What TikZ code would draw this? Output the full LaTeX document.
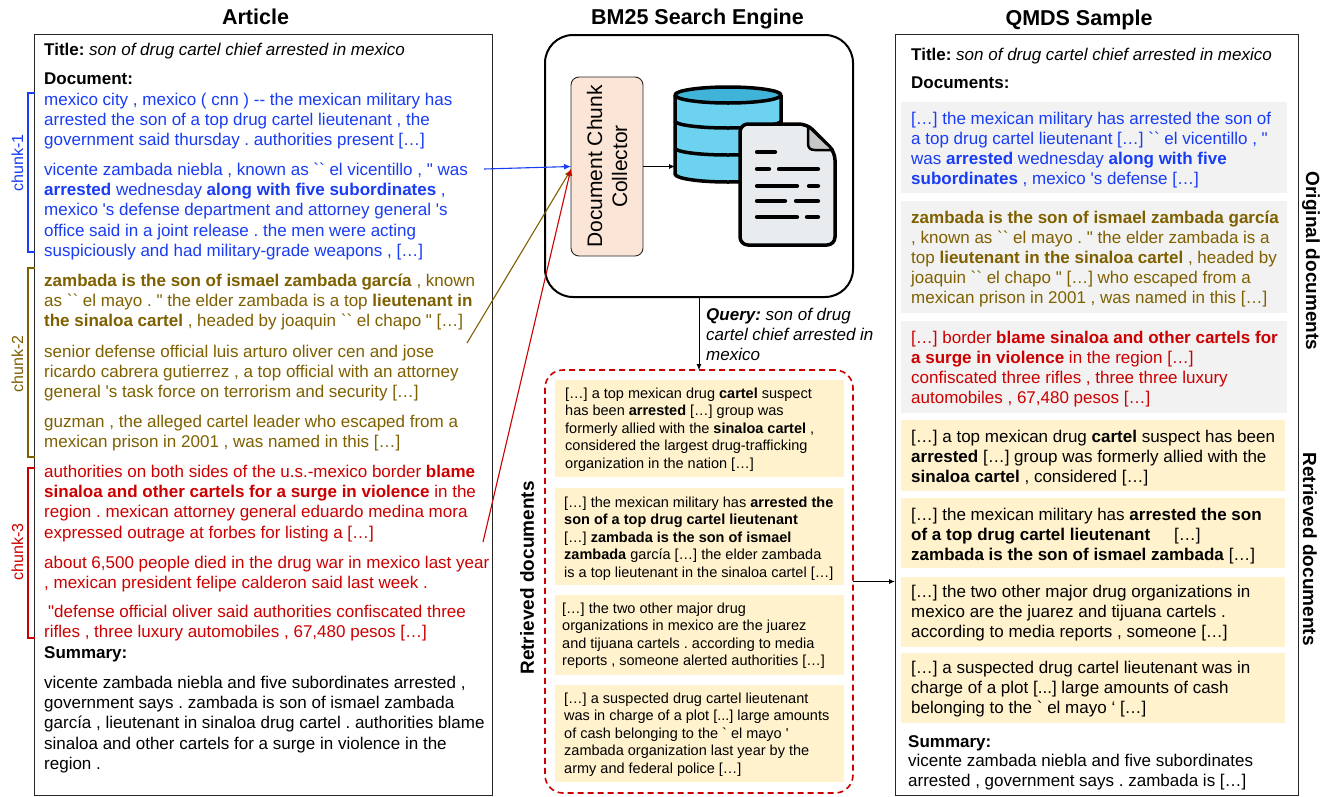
\documentclass[tikz,border=0pt]{standalone}
\usepackage{fontspec}
\setmainfont[Ligatures=TeXOff]{Liberation Sans}
\usetikzlibrary{arrows.meta}
\definecolor{cblue}{RGB}{25,60,245}
\definecolor{colive}{RGB}{127,96,0}
\definecolor{cred}{RGB}{204,0,0}
\definecolor{greybox}{RGB}{242,242,242}
\definecolor{yelbox}{RGB}{255,242,204}
\definecolor{peach}{RGB}{251,229,214}
\definecolor{dbblue}{RGB}{108,210,240}
\definecolor{dbtop}{RGB}{64,180,216}
\definecolor{docgrey}{RGB}{232,236,239}
\definecolor{foldgrey}{RGB}{196,198,200}
\newcommand{\ml}[1]{\begin{tabular}[t]{@{}l@{}}#1\end{tabular}}
\begin{document}
\frenchspacing
\begin{tikzpicture}[x=1pt,y=-1pt,
  txt/.style={anchor=base west, inner sep=0pt, font=\fontsize{17}{20.4}\selectfont},
  rtxt/.style={anchor=base west, inner sep=0pt, font=\fontsize{17}{20.2}\selectfont},
  mtxt/.style={anchor=base west, inner sep=0pt, font=\fontsize{14.5}{17.5}\selectfont},
  ttl/.style={anchor=base, inner sep=0pt, font=\fontsize{21.5}{24}\selectfont\bfseries},
  panel/.style={draw=black!85, line width=0.9pt, inner sep=0pt, outer sep=0pt},
  gbox/.style={fill=greybox, inner sep=0pt, outer sep=0pt},
  ybox/.style={fill=yelbox, inner sep=0pt, outer sep=0pt},
  arr/.style={-{Latex[length=6pt,width=5pt]}, line width=0.8pt},
  carr/.style={-{Latex[length=7pt,width=6pt]}, line width=1.1pt},
  bracket/.style={line width=1.2pt},
  chunklbl/.style={rotate=90, inner sep=0pt, font=\fontsize{16}{18}\selectfont},
  sidelbl/.style={inner sep=0pt, font=\fontsize{19}{22}\selectfont\bfseries},
  icon/.style={line width=3.5pt, line join=round}
]
\useasboundingbox (0,0) rectangle (1332,796);
\fill[white] (0,0) rectangle (1332,796);

% ---------- titles ----------
\node[ttl] (tart) at (255.5,24) {Article};
\node[ttl] (tbm) at (697.5,24) {BM25 Search Engine};
\node[ttl] (tqm) at (1079,25) {QMDS Sample};

% ---------- left panel ----------
\node[panel, minimum width=458pt, minimum height=761pt] (art) at (263,414.5) {};
\node[txt] (ltitle) at (44,55) {\textbf{Title:} \textit{son of drug cartel chief arrested in mexico}};
\node[txt] (ldoc) at (44,84) {\textbf{Document:}};
\node[txt, text=cblue] (p11) at (44,105) {\ml{mexico city , mexico ( cnn ) -- the mexican military has\\arrested the son of a top drug cartel lieutenant , the\\government said thursday . authorities present […]}};
\node[txt, text=cblue] (p12) at (44,175) {\ml{vicente zambada niebla , known as `` el vicentillo , " was\\\textbf{arrested} wednesday \textbf{along with five subordinates} ,\\mexico 's defense department and attorney general 's\\office said in a joint release . the men were acting\\suspiciously and had military-grade weapons , […]}};
\node[txt, text=colive] (p21) at (44,286) {\ml{\textbf{zambada is the son of ismael zambada garcía} , known\\as `` el mayo . " the elder zambada is a top \textbf{lieutenant in}\\\textbf{the sinaloa cartel} , headed by joaquin `` el chapo " […]}};
\node[txt, text=colive] (p22) at (44,357) {\ml{senior defense official luis arturo oliver cen and jose\\ricardo cabrera gutierrez , a top official with an attorney\\general 's task force on terrorism and security […]}};
\node[txt, text=colive] (p23) at (44,427) {\ml{guzman , the alleged cartel leader who escaped from a\\mexican prison in 2001 , was named in this […]}};
\node[txt, text=cred] (p31) at (44,477) {\ml{authorities on both sides of the u.s.-mexico border \textbf{blame}\\\textbf{sinaloa and other cartels for a surge in violence} in the\\region . mexican attorney general eduardo medina mora\\expressed outrage at forbes for listing a […]}};
\node[txt, text=cred] (p32) at (44,568) {\ml{about 6,500 people died in the drug war in mexico last year\\, mexican president felipe calderon said last week .}};
\node[txt, text=cred] (p33) at (48,617) {\ml{"defense official oliver said authorities confiscated three\\\hspace{-4pt}rifles , three luxury automobiles , 67,480 pesos […]}};
\node[txt] (lsumh) at (44,658) {\textbf{Summary:}};
\node[txt] (lsum) at (44,688) {\ml{vicente zambada niebla and five subordinates arrested ,\\government says . zambada is son of ismael zambada\\garcía , lieutenant in sinaloa drug cartel . authorities blame\\sinaloa and other cartels for a surge in violence in the\\region .}};

% chunk brackets
\draw[bracket, cblue] (35,93) -- (28,93) -- (28,252) -- (35,252);
\draw[bracket, colive] (35,268) -- (28,268) -- (28,457) -- (35,457);
\draw[bracket, cred] (35,468) -- (28,468) -- (28,638) -- (35,638);
\node[chunklbl, text=cblue] (ch1) at (17.5,163) {chunk-1};
\node[chunklbl, text=colive] (ch2) at (17.5,364) {chunk-2};
\node[chunklbl, text=cred] (ch3) at (17.5,552) {chunk-3};

% ---------- engine ----------
\node[draw=black, line width=2pt, rounded corners=28pt, minimum width=308pt, minimum height=262pt, inner sep=0pt, outer sep=0pt] (engine) at (699,166) {};
\node[draw=black!85, fill=peach, line width=0.9pt, rounded corners=8pt, minimum width=72pt, minimum height=179pt, inner sep=0pt, outer sep=0pt] (coll) at (607,166.5) {};
\node[rotate=90, align=center, inner sep=0pt, font=\fontsize{21}{25}\selectfont] (colltxt) at (coll.center) {Document Chunk\\Collector};

% database icon
\fill[dbblue] (675,95) -- (675,174) arc[start angle=180,end angle=360,x radius=53pt,y radius=8pt] -- (781,95) -- cycle;
\draw[icon] (675,121) arc[start angle=180,end angle=360,x radius=53pt,y radius=7pt];
\draw[icon] (675,148) arc[start angle=180,end angle=360,x radius=53pt,y radius=7pt];
\draw[icon] (675,95) -- (675,174) arc[start angle=180,end angle=360,x radius=53pt,y radius=8pt] -- (781,95);
\filldraw[icon, fill=dbtop] (728,95) ellipse[x radius=53pt, y radius=8pt];
\coordinate (db) at (675,166.5);
% document icon
\filldraw[icon, fill=docgrey, rounded corners=8pt] (740,124) -- (807,124) -- (835,152) -- (835,245) -- (740,245) -- cycle;
\filldraw[line width=2.5pt, line join=round, fill=foldgrey] (808,126) -- (808,143) .. controls (808,148) and (810,150) .. (815,150) -- (833,150) -- cycle;
\begin{scope}[line width=4.2pt, line cap=round]
\draw (757,152) -- (775,152);
\draw (757,169) -- (769,169); \draw (779,169) -- (818,169);
\draw (757,186) -- (797,186); \draw (809,186) -- (818,186);
\draw (757,201) -- (785,201); \draw (796,201) -- (818,201);
\draw (757,217) -- (797,217); \draw (807,217) -- (818,217);
\end{scope}

\draw[arr] (coll.east) -- (db);

% chunk connectors
\coordinate (c1) at (484,169);
\coordinate (c2) at (467,343);
\coordinate (c3) at (483,542);
\draw[carr, colive] (c2) -- ([yshift=-3pt]coll.west);
\draw[carr, cred] (c3) -- ([yshift=-2pt]coll.west);
\draw[carr, cblue] (c1) -- (coll.west);

% ---------- retrieved ----------
\node[draw=cred, line width=1.6pt, dash pattern=on 6pt off 4pt, rounded corners=18pt, minimum width=308pt, minimum height=423pt, inner sep=0pt, outer sep=0pt] (ret) at (699,581.5) {};
\draw[arr] (engine.south) -- (ret.north);
\node[txt, font=\fontsize{17}{20}\selectfont\itshape] (query) at (706,320) {\ml{\textbf{Query:} son of drug\\cartel chief arrested in\\mexico}};
\node[sidelbl, rotate=90] (retlbl) at (527,578) {Retrieved documents};

\node[ybox, minimum width=289pt, minimum height=97pt] (m1) at (699.5,428.5) {};
\node[ybox, minimum width=289pt, minimum height=97pt] (m2) at (699.5,536.5) {};
\node[ybox, minimum width=289pt, minimum height=80pt] (m3) at (699.5,635) {};
\node[ybox, minimum width=289pt, minimum height=97pt] (m4) at (699.5,733.5) {};
\node[mtxt] (m1t) at (565,398) {\ml{[…] a top mexican drug \textbf{cartel} suspect\\has been \textbf{arrested} […] group was\\formerly allied with the \textbf{sinaloa cartel} ,\\considered the largest drug-trafficking\\organization in the nation […]}};
\node[mtxt] (m2t) at (564,507) {\ml{[…] the mexican military has \textbf{arrested the}\\\textbf{son of a top drug cartel lieutenant}\\{}[…] \textbf{zambada is the son of ismael}\\\textbf{zambada} garcía […] the elder zambada\\is a top lieutenant in the sinaloa cartel […]}};
\node[mtxt] (m3t) at (562,613) {\ml{[…] the two other major drug\\organizations in mexico are the juarez\\and tijuana cartels . according to media\\reports , someone alerted authorities […]}};
\node[mtxt] (m4t) at (564,703) {\ml{[…] a suspected drug cartel lieutenant\\was in charge of a plot [...] large amounts\\of cash belonging to the ` el mayo '\\zambada organization last year by the\\army and federal police […]}};

% ---------- right panel ----------
\node[panel, minimum width=403pt, minimum height=761pt] (qmds) at (1096.5,414.5) {};
\draw[arr] (ret.east) -- (ret.east -| qmds.west);
\node[rtxt] (rtitle) at (911,60) {\textbf{Title:} \textit{son of drug cartel chief arrested in mexico}};
\node[rtxt] (rdocs) at (911,88) {\textbf{Documents:}};
\node[gbox, minimum width=386pt, minimum height=91pt] (g1) at (1094,147.5) {};
\node[gbox, minimum width=386pt, minimum height=112pt] (g2) at (1094,257) {};
\node[gbox, minimum width=386pt, minimum height=92pt] (g3) at (1094,367) {};
\node[rtxt, text=cblue] (g1t) at (911,124) {\ml{[…] the mexican military has arrested the son of\\a top drug cartel lieutenant […] `` el vicentillo , "\\was \textbf{arrested} wednesday \textbf{along with five}\\\textbf{subordinates} , mexico 's defense […]}};
\node[rtxt, text=colive] (g2t) at (911,223) {\ml{\textbf{zambada is the son of ismael zambada garcía}\\, known as `` el mayo . " the elder zambada is a\\top \textbf{lieutenant in the sinaloa cartel} , headed by\\joaquin `` el chapo " […] who escaped from a\\mexican prison in 2001 , was named in this […]}};
\node[rtxt, text=cred] (g3t) at (911,343) {\ml{[…] border \textbf{blame sinaloa and other cartels for}\\\textbf{a surge in violence} in the region […]\\confiscated three rifles , three three luxury\\automobiles , 67,480 pesos […]}};

\node[ybox, minimum width=384pt, minimum height=71pt] (y1) at (1093,455.5) {};
\node[ybox, minimum width=384pt, minimum height=70pt] (y2) at (1093,533) {};
\node[ybox, minimum width=384pt, minimum height=70pt] (y3) at (1093,612) {};
\node[ybox, minimum width=384pt, minimum height=70pt] (y4) at (1093,688) {};
\node[rtxt] (y1t) at (911,442) {\ml{[…] a top mexican drug \textbf{cartel} suspect has been\\\textbf{arrested} […] group was formerly allied with the\\\textbf{sinaloa cartel} , considered […]}};
\node[rtxt] (y2t) at (911,520) {\ml{[…] the mexican military has \textbf{arrested the son}\\\textbf{of a top drug cartel lieutenant}\hspace{24pt}[…]\\\textbf{zambada is the son of ismael zambada} […]}};
\node[rtxt] (y3t) at (911,597) {\ml{[…] the two other major drug organizations in\\mexico are the juarez and tijuana cartels .\\according to media reports , someone […]}};
\node[rtxt] (y4t) at (911,673) {\ml{[…] a suspected drug cartel lieutenant was in\\charge of a plot [...] large amounts of cash\\belonging to the ` el mayo ‘ […]}};
\node[rtxt] (rsumh) at (908,747) {\textbf{Summary:}};
\node[rtxt] (rsum) at (908,766) {\ml{vicente zambada niebla and five subordinates\\arrested , government says . zambada is […]}};

\node[sidelbl, rotate=-90] (origlbl) at (1311,261) {Original documents};
\node[sidelbl, rotate=-90] (rretlbl) at (1310,549) {Retrieved documents};
\end{tikzpicture}
\end{document}
